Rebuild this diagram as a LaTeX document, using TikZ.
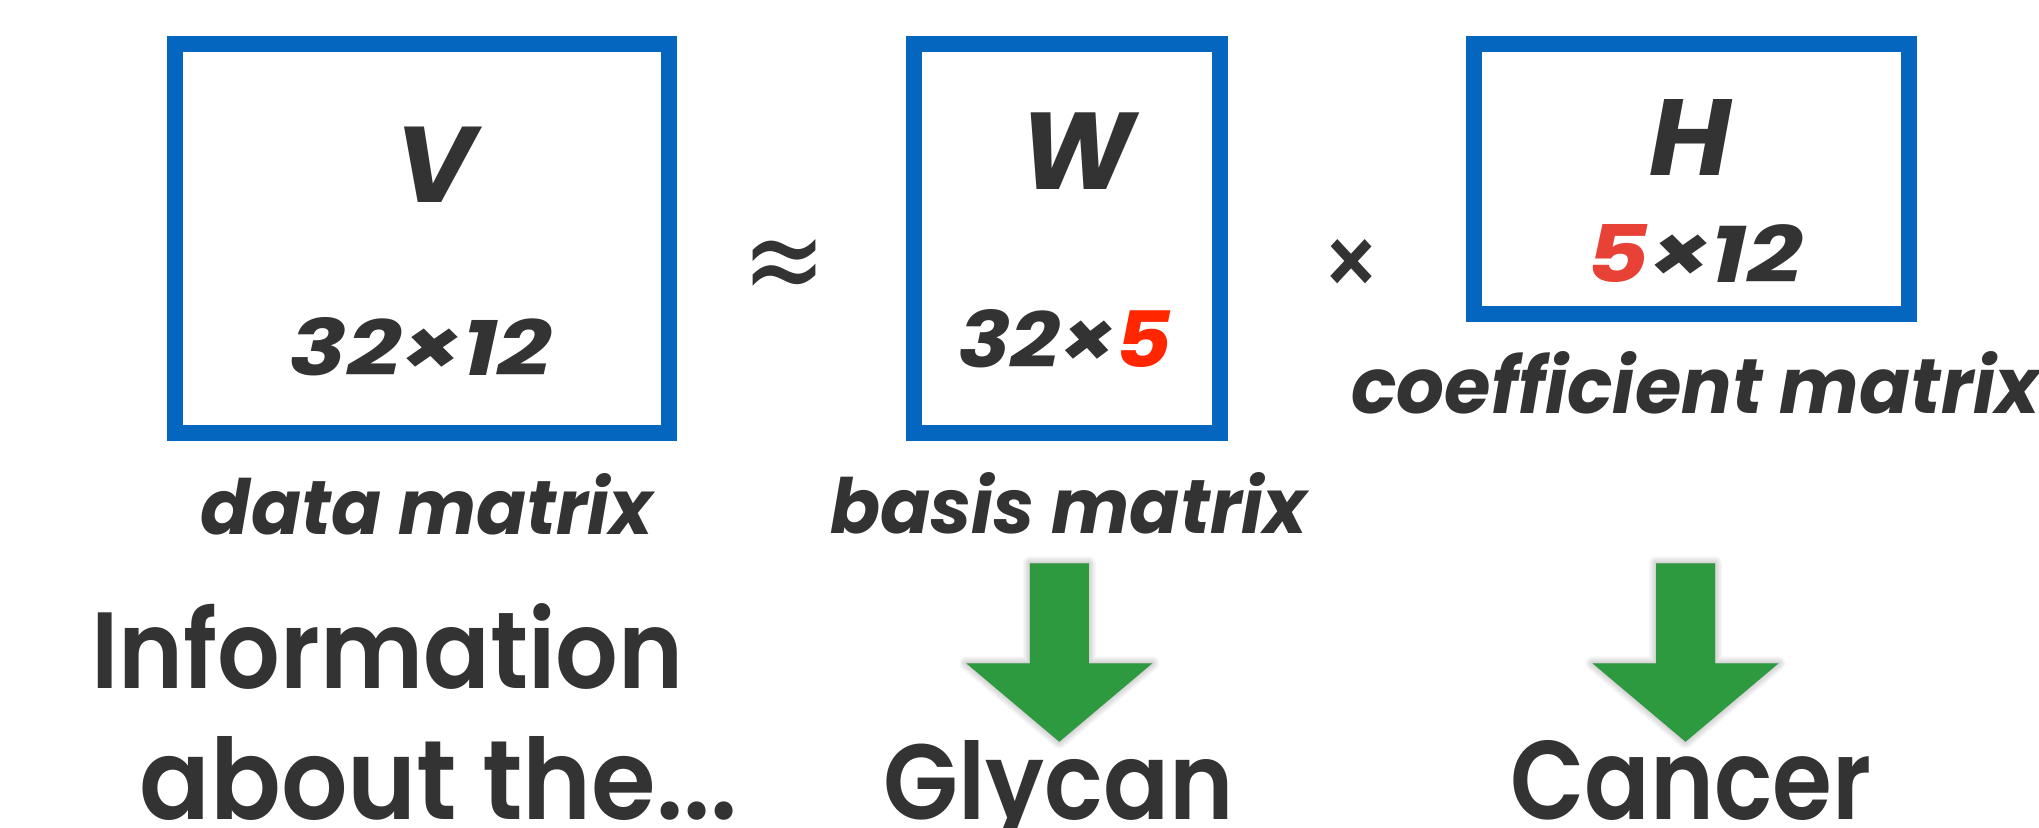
\documentclass[tikz,border=0pt]{standalone}
\usepackage{fontspec}
\usepackage{graphicx}
\setmainfont{Poppins}
\newfontfamily\medfont{Poppins SemiBold}
\newfontfamily\opfont{Poppins Medium}
\newfontfamily\symfont{DejaVu Sans}
\newdimen\pxu \pxu=0.5pt
\newcommand{\fitx}[3]{\resizebox{#1\pxu}{#2\pxu}{#3}}
\definecolor{tgray}{HTML}{333333}
\definecolor{mblue}{HTML}{0566C0}
\definecolor{agreen}{HTML}{2E9A40}
\definecolor{redA}{HTML}{FF2600}
\definecolor{redB}{HTML}{E84237}
\begin{document}
\begin{tikzpicture}[x=0.5pt,y=-0.5pt,
  matbox/.style={draw=mblue,line width=8pt,inner sep=0pt},
  ttxt/.style={inner sep=0pt,anchor=base,text=tgray,font=\bfseries\itshape},
  btxt/.style={inner sep=0pt,anchor=base,text=tgray,font=\medfont},
  sym/.style={inner sep=0pt,anchor=center,text=tgray}]
\fill[white] (0,0) rectangle (2039,828);
\useasboundingbox (0,0) rectangle (2039,828);
% matrices
\node[matbox,minimum width=247.1pt,minimum height=194.2pt] (Vbox) at (421.7,238.4) {};
\node[matbox,minimum width=153pt,minimum height=194.2pt] (Wbox) at (1067,238.4) {};
\node[matbox,minimum width=217.7pt,minimum height=135pt] (Hbox) at (1691.3,179) {};
% letters and sizes
\node[ttxt] (V) at (435.5,202.5) {\fitx{80}{75.5}{V}};
\node[ttxt] (Vsize) at (421,376) {\fitx{262}{58}{32×12}};
\node[ttxt] (W) at (1077.4,190) {\fitx{114}{76.7}{W}};
\node[ttxt] (Wsize) at (1065.3,367.5) {\fitx{214}{58}{32×\textcolor{redA}{5}}};
\node[ttxt] (H) at (1690.9,176) {\fitx{82}{76}{H}};
\node[ttxt] (Hsize) at (1694.3,283) {\fitx{216}{58}{\textcolor{redB}{5}×12}};
% operators
\node[sym,font=\symfont] (approx) at (784.5,272) {\resizebox{84\pxu}{64\pxu}{≈}};
\node[sym,font=\opfont] (times) at (1351.5,268) {\resizebox{64\pxu}{58\pxu}{×}};
% captions
\node[ttxt] (Vcap) at (427,534) {\fitx{452}{61}{data matrix}};
\node[ttxt] (Wcap) at (1068.5,533) {\fitx{477}{61}{basis matrix}};
\node[ttxt] (Hcap) at (1695.5,414) {\fitx{688}{62}{coefficient matrix}};
% bottom texts
\node[btxt] (info1) at (387.4,688.3) {\fitx{592}{85}{Information}};
\node[btxt] (info2) at (438.5,819) {\fitx{598}{83}{about the...}};
\node[btxt] (glycan) at (1058.5,819) {\fitx{350}{79}{Glycan}};
\node[btxt] (cancer) at (1690.7,819) {\fitx{361}{79}{Cancer}};
% arrows
\coordinate (a1) at (1059.3,563.3);
\coordinate (a2) at (1685.5,563.3);
\foreach \a in {a1,a2}{
  \begin{scope}[shift={(0,5)}]
  \foreach \w in {2,5,8,11,14}{
    \filldraw[black,opacity=0.035,line width=\w*0.5pt,line join=round]
      (\a) ++(-29.5,0) -- ++(59,0) -- ++(0,100) -- ++(63.5,0) -- ++(-93,78.4) -- ++(-93,-78.4) -- ++(63.5,0) -- cycle;
  }
  \end{scope}
  \fill[agreen] (\a) ++(-29.5,0) -- ++(59,0) -- ++(0,100) -- ++(63.5,0) -- ++(-93,78.4) -- ++(-93,-78.4) -- ++(63.5,0) -- cycle;
}
\end{tikzpicture}
\end{document}
